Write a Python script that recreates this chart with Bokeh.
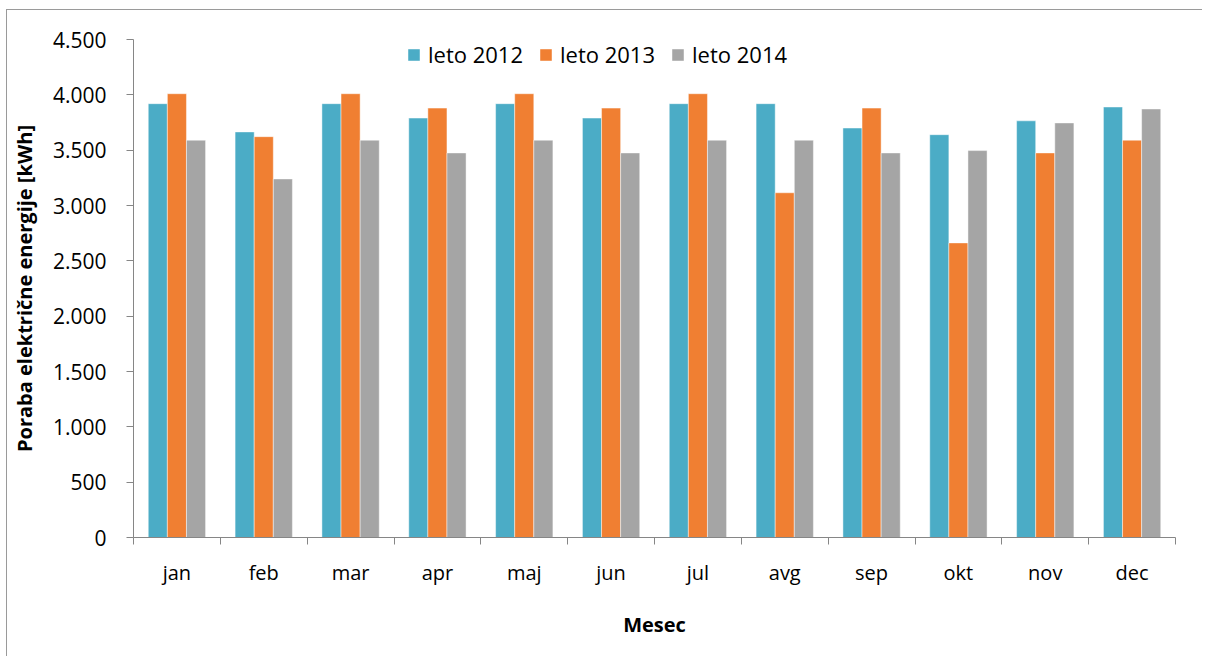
from bokeh.plotting import figure
from bokeh.models import ColumnDataSource, FixedTicker, Range1d, Legend, LegendItem, CustomJSTickFormatter
from bokeh.embed import file_html
from bokeh.resources import INLINE

months = ["jan", "feb", "mar", "apr", "maj", "jun", "jul", "avg", "sep", "okt", "nov", "dec"]
leto_2012 = [3920, 3665, 3920, 3790, 3920, 3790, 3920, 3920, 3700, 3640, 3765, 3890]
leto_2013 = [4010, 3622, 4010, 3880, 4010, 3880, 4010, 3115, 3880, 2662, 3475, 3590]
leto_2014 = [3590, 3240, 3590, 3475, 3590, 3475, 3590, 3590, 3475, 3496, 3746, 3872]
series_names = ["leto 2012", "leto 2013", "leto 2014"]
colors = ["#4BACC6", "#F07F32", "#A5A5A5"]
y_ticks = [0, 500, 1000, 1500, 2000, 2500, 3000, 3500, 4000, 4500]

FONT = "Open Sans"

p = figure(width=1196, height=647, output_backend="svg", toolbar_location=None,
           x_range=Range1d(0, 12), y_range=Range1d(0, 4500),
           min_border_left=126, min_border_right=28, min_border_top=29, min_border_bottom=120)
p.outline_line_color = None
p.xgrid.visible = False
p.ygrid.visible = False
p.styles = {"border-top": "1px solid #9A9A9A", "border-left": "1px solid #9A9A9A",
            "margin-left": "6px", "margin-top": "9px"}

centers = [i + 0.5 for i in range(len(months))]
bw = 0.22
renderers = []
for k, (vals, c) in enumerate(zip([leto_2012, leto_2013, leto_2014], colors)):
    xs = [x + (k - 1) * bw for x in centers]
    src = ColumnDataSource(dict(x=xs, top=vals))
    r = p.vbar(x="x", top="top", width=bw, bottom=0, source=src, fill_color=c,
               line_color="white", line_alpha=0.45, line_width=1)
    renderers.append(r)

legend = Legend(items=[LegendItem(label=n, renderers=[r]) for n, r in zip(series_names, renderers)],
                orientation="horizontal", location=(273, 468),
                border_line_color=None, background_fill_alpha=0,
                label_text_font=FONT, label_text_font_size="22px", label_text_color="#000000",
                glyph_width=15, glyph_height=15, spacing=15, label_standoff=7,
                margin=0, padding=0)
p.add_layout(legend)

# x axis
p.xaxis.ticker = FixedTicker(ticks=centers, minor_ticks=list(range(13)))
p.xaxis.major_label_overrides = {c: m for c, m in zip(centers, months)}
p.xaxis.major_tick_out = 0
p.xaxis.major_tick_in = 0
p.xaxis.minor_tick_out = 7
p.xaxis.minor_tick_in = 0
p.xaxis.minor_tick_line_color = "#868686"
p.xaxis.axis_line_color = "#868686"
p.xaxis.major_label_text_font = FONT
p.xaxis.major_label_text_font_size = "20px"
p.xaxis.major_label_text_color = "#000000"
p.xaxis.major_label_standoff = 14
p.xaxis.axis_label = "Mesec"
p.xaxis.axis_label_text_font = FONT
p.xaxis.axis_label_text_font_size = "20px"
p.xaxis.axis_label_text_font_style = "bold"
p.xaxis.axis_label_text_color = "#000000"
p.xaxis.axis_label_standoff = 22

# y axis
p.yaxis.ticker = FixedTicker(ticks=y_ticks, minor_ticks=[])
p.yaxis.formatter = CustomJSTickFormatter(code="""
const s = Math.round(tick).toString();
return s.replace(/\\B(?=(\\d{3})+(?!\\d))/g, '.');
""")
p.yaxis.major_tick_out = 7
p.yaxis.major_tick_in = 0
p.yaxis.major_tick_line_color = "#868686"
p.yaxis.axis_line_color = "#868686"
p.yaxis.major_label_text_font = FONT
p.yaxis.major_label_text_font_size = "21px"
p.yaxis.major_label_text_color = "#000000"
p.yaxis.major_label_standoff = 20
p.yaxis.axis_label = "Poraba električne energije [kWh]"
p.yaxis.axis_label_text_font = FONT
p.yaxis.axis_label_text_font_size = "20px"
p.yaxis.axis_label_text_font_style = "bold"
p.yaxis.axis_label_text_color = "#000000"
p.yaxis.axis_label_standoff = 12

open("out.html", "w").write(file_html(p, INLINE))
